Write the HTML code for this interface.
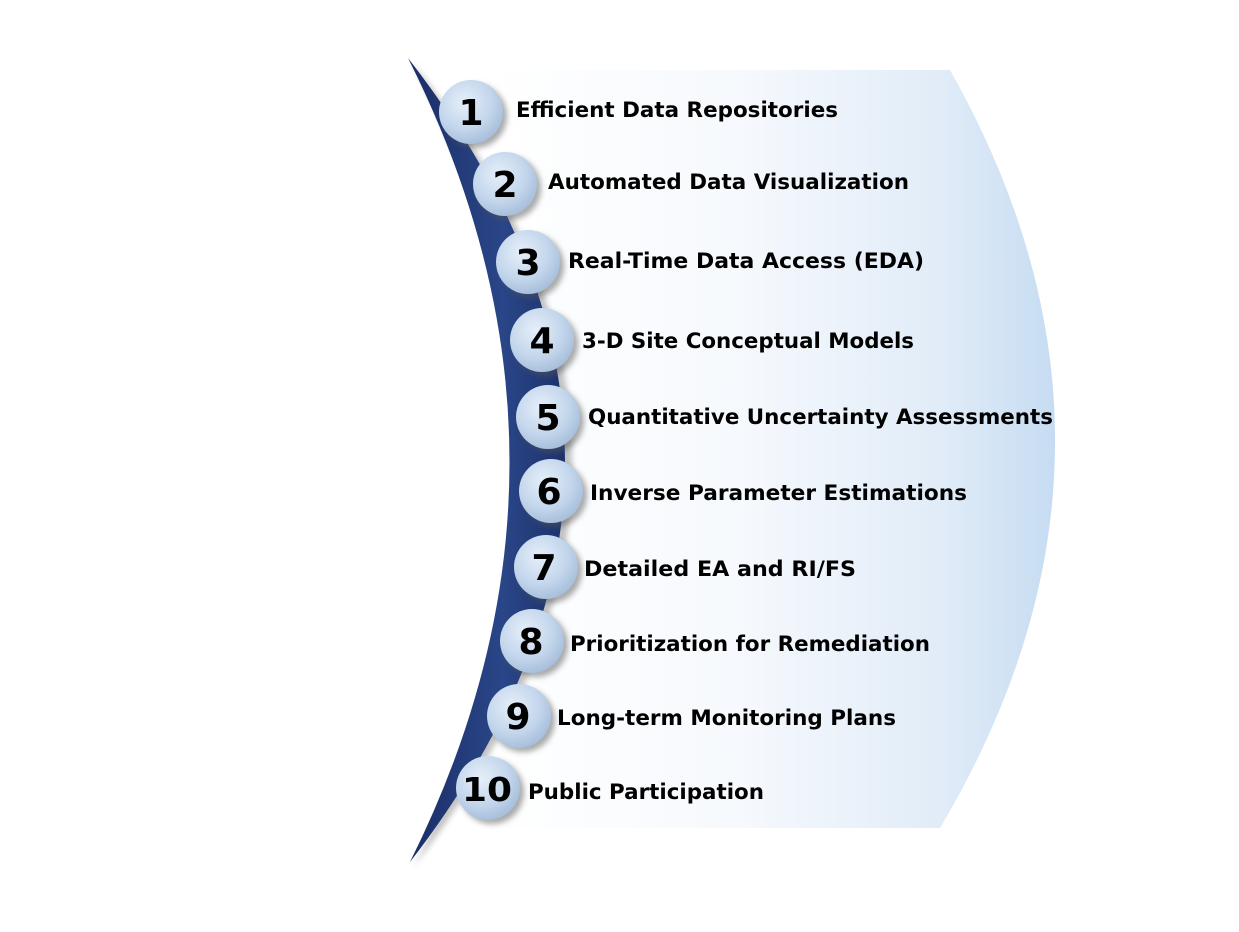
<!DOCTYPE html>
<html><head><meta charset="utf-8"><style>
html,body{margin:0;padding:0;background:#fff;width:1239px;height:932px;overflow:hidden}
</style></head><body>
<svg width="1239" height="932" viewBox="0 0 1239 932" xmlns="http://www.w3.org/2000/svg">
<defs>
<linearGradient id="pg" x1="0" x2="1" y1="0" y2="0">
<stop offset="0" stop-color="#ffffff"/><stop offset="0.45" stop-color="#f6f9fd"/><stop offset="0.8" stop-color="#e1ecf8"/><stop offset="1" stop-color="#c6dcf2"/>
</linearGradient>
<linearGradient id="cg" x1="0" x2="1" y1="0" y2="0">
<stop offset="0" stop-color="#1a2d66"/><stop offset="0.6" stop-color="#2a4688"/><stop offset="1" stop-color="#1c326c"/>
</linearGradient>
<radialGradient id="bg" cx="0.4" cy="0.35" r="0.7">
<stop offset="0" stop-color="#e6eff9"/><stop offset="0.6" stop-color="#c3d6ec"/><stop offset="1" stop-color="#a4bbd8"/>
</radialGradient>
<filter id="sh" x="-30%" y="-30%" width="160%" height="160%"><feGaussianBlur stdDeviation="3"/></filter>
</defs>
<path d="M500,70 L950,70 Q1165,450 940,828 L480,828 Q620,450 500,70 Z" fill="url(#pg)"/>
<path d="M412,62 Q731,460 414,866 Q620,460 412,62 Z" fill="#888" opacity="0.5" filter="url(#sh)"/>
<path d="M408,58 Q721,460 410,862 Q610,460 408,58 Z" fill="url(#cg)"/>
<g font-family="'DejaVu Sans','Liberation Sans',sans-serif" font-weight="bold" fill="#000">
<circle cx="475" cy="116" r="32" fill="#555" opacity="0.5" filter="url(#sh)"/><circle cx="471" cy="112" r="32" fill="url(#bg)"/><text x="471" y="125" font-size="36" text-anchor="middle">1</text>
<circle cx="509" cy="188" r="32" fill="#555" opacity="0.5" filter="url(#sh)"/><circle cx="505" cy="184" r="32" fill="url(#bg)"/><text x="505" y="197" font-size="36" text-anchor="middle">2</text>
<circle cx="532" cy="266" r="32" fill="#555" opacity="0.5" filter="url(#sh)"/><circle cx="528" cy="262" r="32" fill="url(#bg)"/><text x="528" y="275" font-size="36" text-anchor="middle">3</text>
<circle cx="546" cy="344" r="32" fill="#555" opacity="0.5" filter="url(#sh)"/><circle cx="542" cy="340" r="32" fill="url(#bg)"/><text x="542" y="353" font-size="36" text-anchor="middle">4</text>
<circle cx="552" cy="421" r="32" fill="#555" opacity="0.5" filter="url(#sh)"/><circle cx="548" cy="417" r="32" fill="url(#bg)"/><text x="548" y="430" font-size="36" text-anchor="middle">5</text>
<circle cx="555" cy="495" r="32" fill="#555" opacity="0.5" filter="url(#sh)"/><circle cx="551" cy="491" r="32" fill="url(#bg)"/><text x="549" y="504" font-size="36" text-anchor="middle">6</text>
<circle cx="550" cy="571" r="32" fill="#555" opacity="0.5" filter="url(#sh)"/><circle cx="546" cy="567" r="32" fill="url(#bg)"/><text x="544" y="580" font-size="36" text-anchor="middle">7</text>
<circle cx="536" cy="645" r="32" fill="#555" opacity="0.5" filter="url(#sh)"/><circle cx="532" cy="641" r="32" fill="url(#bg)"/><text x="531" y="654" font-size="36" text-anchor="middle">8</text>
<circle cx="523" cy="720" r="32" fill="#555" opacity="0.5" filter="url(#sh)"/><circle cx="519" cy="716" r="32" fill="url(#bg)"/><text x="518" y="729" font-size="36" text-anchor="middle">9</text>
<circle cx="492" cy="792" r="32" fill="#555" opacity="0.5" filter="url(#sh)"/><circle cx="488" cy="788" r="32" fill="url(#bg)"/><text x="487" y="801" font-size="33" text-anchor="middle" textLength="50" lengthAdjust="spacingAndGlyphs">10</text>
<g font-size="21">
<text x="516" y="117" textLength="322" lengthAdjust="spacingAndGlyphs">Efficient Data Repositories</text>
<text x="548" y="189" textLength="361" lengthAdjust="spacingAndGlyphs">Automated Data Visualization</text>
<text x="568" y="268" textLength="356" lengthAdjust="spacingAndGlyphs">Real-Time Data Access (EDA)</text>
<text x="582" y="348" textLength="332" lengthAdjust="spacingAndGlyphs">3-D Site Conceptual Models</text>
<text x="588" y="424" textLength="465" lengthAdjust="spacingAndGlyphs">Quantitative Uncertainty Assessments</text>
<text x="590" y="500" textLength="377" lengthAdjust="spacingAndGlyphs">Inverse Parameter Estimations</text>
<text x="584" y="576" textLength="272" lengthAdjust="spacingAndGlyphs">Detailed EA and RI/FS</text>
<text x="570" y="651" textLength="360" lengthAdjust="spacingAndGlyphs">Prioritization for Remediation</text>
<text x="557" y="725" textLength="339" lengthAdjust="spacingAndGlyphs">Long-term Monitoring Plans</text>
<text x="528" y="799" textLength="236" lengthAdjust="spacingAndGlyphs">Public Participation</text>
</g>
</g>
</svg>
</body></html>
